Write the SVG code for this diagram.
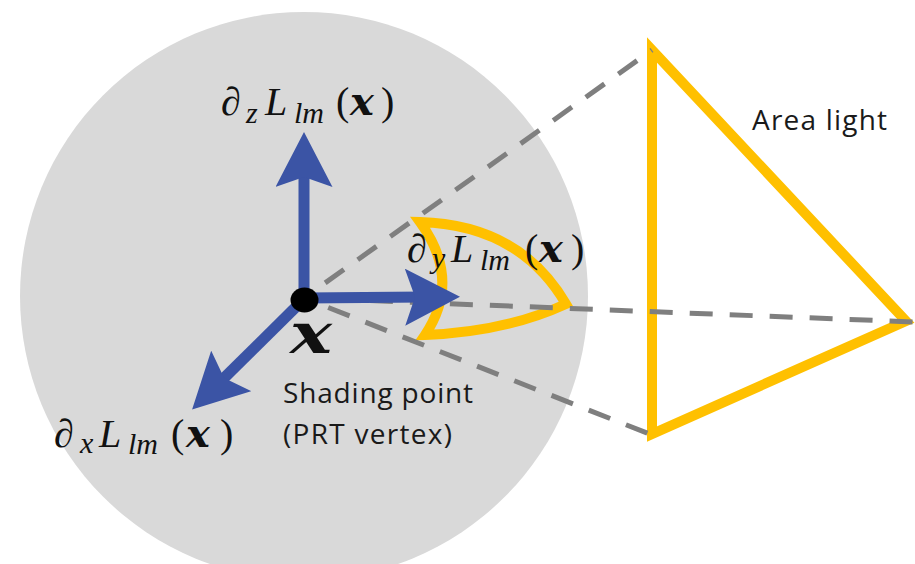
<svg xmlns="http://www.w3.org/2000/svg" width="915" height="564" viewBox="0 0 915 564">
<style>
.dash{fill:none;stroke:#7f7f7f;stroke-width:5;stroke-dasharray:23 17}
.axis{fill:none;stroke:#3b54a5;stroke-width:11;marker-end:url(#ah)}
.yel{fill:none;stroke:#ffc000;stroke-width:10}
.math{font-family:"Liberation Serif","Times New Roman",serif;font-style:italic;font-size:40px;fill:#111}
.sub{font-size:30px}
.up{font-style:normal}
.bx{font-family:"DejaVu Serif",serif;font-weight:bold;font-style:italic}
.big{font-size:56px}
.lbl{font-family:"Open Sans","Noto Sans",sans-serif;font-size:28px;fill:#1a1a1a}
</style>
<defs>
<marker id="ah" markerUnits="userSpaceOnUse" viewBox="0 0 55 57" markerWidth="55" markerHeight="57" refX="20" refY="28.5" orient="auto">
<path d="M0,0 L55,28.5 L0,57 L10,28.5 Z" fill="#3b54a5"/>
</marker>
</defs>
<g id="sphere"><circle cx="304" cy="296" r="284" fill="#d9d9d9"/></g>
<g id="area-light"><polygon class="yel" points="652,50 906,321 652,434" stroke-width="11"/></g>
<g id="solid-angle"><path class="yel" d="M420,222 Q520,225 566,304 Q505,332 425,335 Q462,280 420,222 Z"/></g>
<g id="connectors">
<path class="dash" d="M304,298 L652,50" stroke-dashoffset="14"/>
<path class="dash" d="M304,298 L915,322" stroke-dashoffset="14"/>
<path class="dash" d="M304,298 L652,435" stroke-dashoffset="14"/>
<path class="axis" d="M304,299 L304,167"/>
<path class="axis" d="M304,298 L425,297"/>
<path class="axis" d="M304,299 L217,385"/>
</g>
<g id="shading-point">
<ellipse cx="304.5" cy="300" rx="14" ry="12.5" fill="#000"/>
<text class="math bx big" x="290" y="353" textLength="42" lengthAdjust="spacingAndGlyphs">x</text>
<text class="lbl" x="283" y="403" textLength="190" lengthAdjust="spacing">Shading point</text>
<text class="lbl" x="283" y="444" textLength="169" lengthAdjust="spacing">(PRT vertex)</text>
</g>
<g id="label-dz">
<text class="math" y="115"><tspan x="221">∂</tspan><tspan class="sub" x="246" y="123">z</tspan><tspan x="265" y="115">L</tspan><tspan class="sub" x="294" y="123">lm</tspan><tspan class="up" x="336" y="115">(</tspan><tspan class="bx" x="350">x</tspan><tspan class="up" x="381">)</tspan></text>
</g>
<g id="label-dy">
<text class="math" y="262"><tspan x="407">∂</tspan><tspan class="sub" x="432" y="268">y</tspan><tspan x="451" y="262">L</tspan><tspan class="sub" x="480" y="270">lm</tspan><tspan class="up" x="525" y="262">(</tspan><tspan class="bx" x="539">x</tspan><tspan class="up" x="571">)</tspan></text>
</g>
<g id="label-dx">
<text class="math" y="447"><tspan x="54">∂</tspan><tspan class="sub" x="80" y="453">x</tspan><tspan x="99" y="447">L</tspan><tspan class="sub" x="128" y="454">lm</tspan><tspan class="up" x="171" y="447">(</tspan><tspan class="bx" x="186">x</tspan><tspan class="up" x="220">)</tspan></text>
</g>
<g id="label-area"><text class="lbl" x="752" y="130" textLength="135" lengthAdjust="spacing">Area light</text></g>
</svg>
